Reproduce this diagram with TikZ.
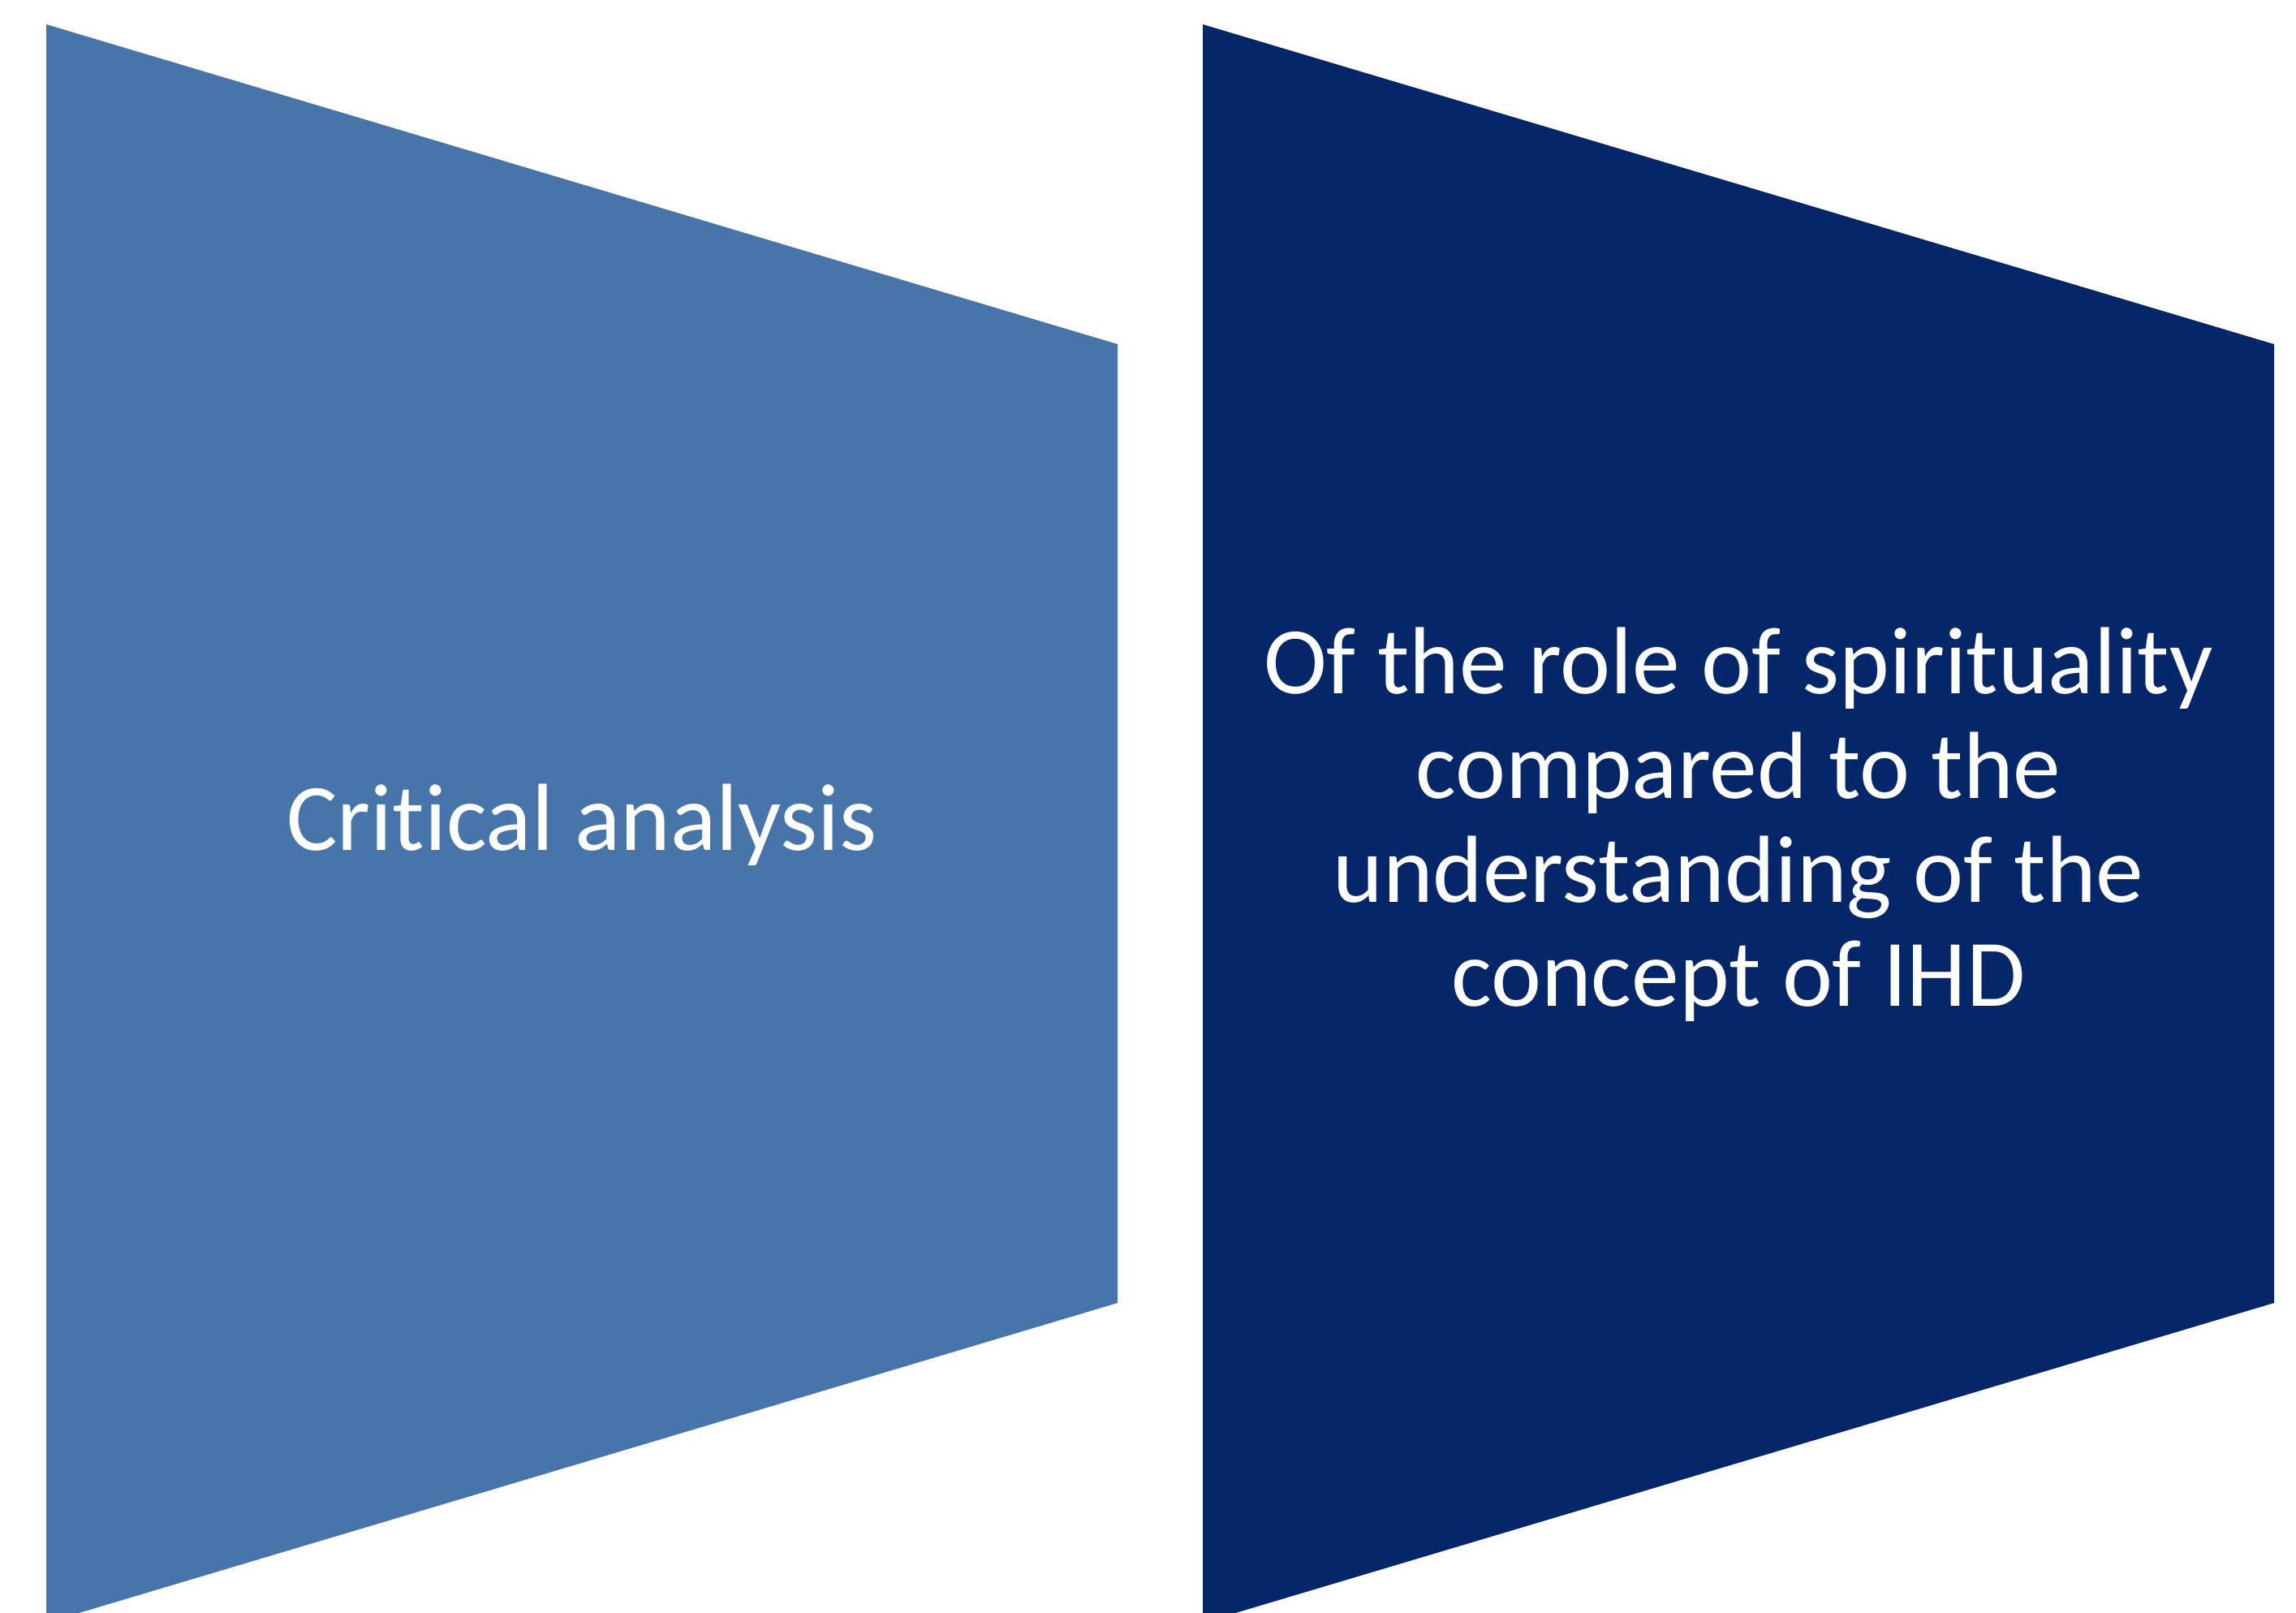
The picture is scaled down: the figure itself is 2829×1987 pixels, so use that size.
\documentclass[tikz,border=0pt]{standalone}
\usepackage{fontspec}
\setmainfont{Carlito}[Ligatures=NoCommon]
\usetikzlibrary{positioning}
\definecolor{panelblue}{HTML}{4774A9}
\definecolor{panelnavy}{HTML}{06266A}

\begin{document}
\begin{tikzpicture}[x=0.01cm,y=-0.01cm,
            panel/.style={draw=none},
            caption/.style={text=white, align=center,
            font=\fontsize{33.4}{36.5}\selectfont}]
        \useasboundingbox (0,0) rectangle (2829,1987);
        \clip (0,0) rectangle (2829,1987);
        \fill[panel, panelblue] (57,30) -- (1377,424) -- (1377,1605) -- (57,1999) -- cycle;
        \fill[panel, panelnavy] (1482,30) -- (2802,424) -- (2802,1605) -- (1482,1999) -- cycle;
        \node[caption] (analysis) at (717,1016) {Critical analysis};
        \node[caption] (role) at (2142,1016) {Of the role of spirituality\\compared to the\\understanding of the\\concept of IHD};
    \end{tikzpicture}
\end{document}
